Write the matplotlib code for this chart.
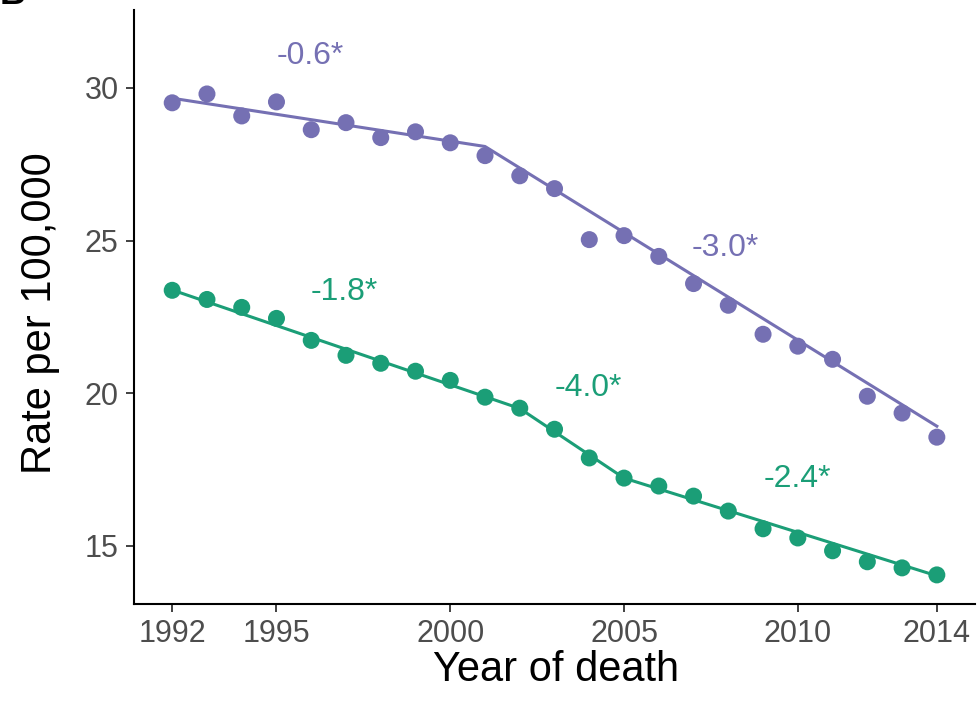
import matplotlib.pyplot as plt
import numpy as np

plt.rcParams['font.family'] = ['Liberation Sans', 'DejaVu Sans']

years = np.arange(1992, 2015)

# observed rates
purple_rate = [29.51, 29.80, 29.08, 29.54, 28.63, 28.86, 28.37, 28.56, 28.20, 27.78,
               27.12, 26.70, 25.03, 25.16, 24.48, 23.59, 22.88, 21.93, 21.54, 21.11,
               19.90, 19.35, 18.56]
green_rate = [23.37, 23.07, 22.81, 22.45, 21.73, 21.24, 20.98, 20.72, 20.42, 19.87,
              19.51, 18.82, 17.88, 17.22, 16.96, 16.63, 16.14, 15.56, 15.26, 14.84,
              14.48, 14.28, 14.05]

# joinpoint fits
purple_fit_years = [1992, 2001, 2014]
purple_fit = [29.66, 28.08, 18.92]
green_fit_years = [1992, 2002, 2005, 2014]
green_fit = [23.38, 19.50, 17.22, 14.02]

# annual percent change labels
purple_apc = ['-0.6*', '-3.0*']
purple_apc_pos = [(1995.97, 31.05), (2007.9, 24.74)]
green_apc = ['-1.8*', '-4.0*', '-2.4*']
green_apc_pos = [(1996.96, 23.3), (2003.96, 20.16), (2010.0, 17.19)]

xticks = [1992, 1995, 2000, 2005, 2010, 2014]
yticks = [15, 20, 25, 30]

purple = '#7570b3'
green = '#1b9e77'

fig = plt.figure(figsize=(9.78, 7.13), dpi=100)
ax = fig.add_axes([0.137, 0.153, 0.86, 0.833])

for rate, fy, fv, col, labs, pos in [
        (purple_rate, purple_fit_years, purple_fit, purple, purple_apc, purple_apc_pos),
        (green_rate, green_fit_years, green_fit, green, green_apc, green_apc_pos)]:
    ax.plot(fy, fv, color=col, lw=2.2, zorder=2)
    ax.scatter(years, rate, s=150, color=col, edgecolors='none', zorder=3)
    for t, (x, y) in zip(labs, pos):
        ax.text(x, y, t, color=col, fontsize=23, ha='center', va='center')

ax.set_xlim(1990.9, 2015.1)
ax.set_ylim(13.1, 32.55)
ax.set_xticks(xticks)
ax.set_yticks(yticks)
ax.tick_params(labelsize=22, labelcolor='#4d4d4d', length=6, width=1.3,
               color='#333333', pad=5)
for s in ['top', 'right']:
    ax.spines[s].set_visible(False)
for s in ['left', 'bottom']:
    ax.spines[s].set_linewidth(1.5)

ax.set_xlabel('Year of death', fontsize=30, va='center')
ax.set_ylabel('Rate per 100,000', fontsize=30, va='center')
ax.xaxis.set_label_coords(0.502, -0.112)
ax.yaxis.set_label_coords(-0.112, 0.49)

fig.text(0.0, 0.994, 'B', fontsize=26, fontweight='bold', va='baseline', ha='left')

fig.savefig('out.png', dpi=100)
